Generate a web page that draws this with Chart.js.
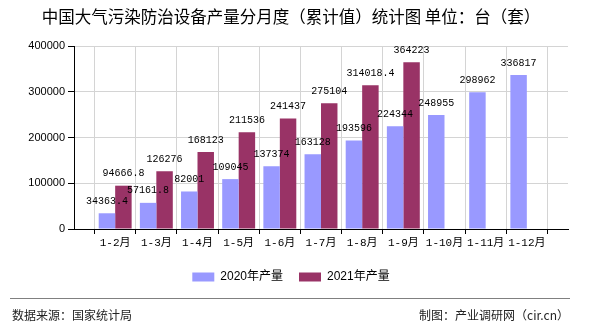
<!DOCTYPE html>
<html>
<head>
<meta charset="utf-8">
<script src="https://cdn.jsdelivr.net/npm/chart.js@4.4.1/dist/chart.umd.min.js"></script>
<style>
html,body{margin:0;padding:0;background:#fff;}
#wrap{position:relative;width:590px;height:330px;overflow:hidden;background:#fff;}
#chart{position:absolute;left:0;top:0;}
#title{position:absolute;left:-4px;top:6px;width:590px;text-align:center;font-family:"Noto Sans CJK SC",sans-serif;font-size:16.5px;line-height:20px;color:#000;white-space:nowrap;}
#sep{position:absolute;left:10px;top:298px;width:560px;height:1px;background:#808080;}
#src{position:absolute;left:12px;top:307px;font-family:"Noto Sans CJK SC",sans-serif;font-size:12px;line-height:16px;color:#222;white-space:nowrap;}
#maker{position:absolute;right:21px;top:307px;font-family:"Noto Sans CJK SC",sans-serif;font-size:12px;line-height:16px;color:#222;white-space:nowrap;}
</style>
</head>
<body>
<div id="wrap">
  <canvas id="chart" width="590" height="330"></canvas>
  <div id="title">中国大气污染防治设备产量分月度（累计值）统计图 单位：台（套）</div>
  <div id="sep"></div>
  <div id="src">数据来源：国家统计局</div>
  <div id="maker">制图：产业调研网（cir.cn）</div>
</div>
<script>
// ---- data ----
const categories = ['1-2月','1-3月','1-4月','1-5月','1-6月','1-7月','1-8月','1-9月','1-10月','1-11月','1-12月'];
const output2020 = [34363.4, 57161.8, 82001, 109045, 137374, 163128, 193596, 224344, 248955, 298962, 336817];
const output2021 = [94666.8, 126276, 168123, 211536, 241437, 275104, 314018.4, 364223, null, null, null];
const seriesNames = ['2020年产量', '2021年产量'];
const yTicks = [0, 100000, 200000, 300000, 400000];

// an empty slot at each end of the category axis, like the reference
const axisLabels = [''].concat(categories, ['']);
const pad = arr => [null].concat(arr, [null]);

const valueLabels = {
  id: 'valueLabels',
  afterDatasetsDraw(chart) {
    const ctx = chart.ctx;
    ctx.save();
    ctx.font = '10px "Liberation Mono", monospace';
    ctx.fillStyle = '#000';
    ctx.textAlign = 'center';
    ctx.textBaseline = 'middle';
    chart.data.datasets.forEach((ds, i) => {
      const meta = chart.getDatasetMeta(i);
      meta.data.forEach((el, j) => {
        const v = ds.data[j];
        if (v === null || v === undefined) return;
        ctx.fillText(String(v), el.x, el.y - 12);
      });
    });
    ctx.restore();
  }
};

new Chart(document.getElementById('chart'), {
  type: 'bar',
  data: {
    labels: axisLabels,
    datasets: [
      { label: seriesNames[0], data: pad(output2020), backgroundColor: '#9999ff', borderWidth: 0 },
      { label: seriesNames[1], data: pad(output2021), backgroundColor: '#993366', borderWidth: 0 }
    ]
  },
  options: {
    responsive: false,
    animation: false,
    devicePixelRatio: 1,
    layout: { padding: { left: 14, right: 22, top: 46, bottom: 37 } },
    datasets: { bar: { barPercentage: 1, categoryPercentage: 0.8 } },
    plugins: {
      title: { display: false },
      tooltip: { enabled: false },
      legend: {
        display: true,
        position: 'bottom',
        labels: {
          boxWidth: 22,
          boxHeight: 9,
          padding: 16,
          color: '#000',
          font: { family: '"Liberation Sans", "Noto Sans CJK SC", sans-serif', size: 12 }
        }
      }
    },
    scales: {
      x: {
        type: 'category',
        offset: false,
        grid: { color: '#d4d4d4', tickColor: '#000', tickLength: 5, drawOnChartArea: true },
        border: { color: '#000', width: 1 },
        ticks: {
          autoSkip: false, maxRotation: 0, minRotation: 0, padding: 2, color: '#000',
          font: { family: '"Liberation Mono", "Noto Sans CJK SC", monospace', size: 11 }
        },
        afterFit: s => { s.height = 26; }
      },
      y: {
        min: 0,
        max: 400000,
        afterBuildTicks: s => { s.ticks = yTicks.map(v => ({ value: v })); },
        grid: { color: '#d4d4d4', tickColor: '#000', tickLength: 6 },
        border: { color: '#000', width: 1 },
        ticks: {
          padding: 3, color: '#000',
          font: { family: '"Liberation Sans", sans-serif', size: 11 },
          callback: v => String(v)
        },
        afterFit: s => { s.width = 60; }
      }
    }
  },
  plugins: [valueLabels]
});
</script>
</body>
</html>
